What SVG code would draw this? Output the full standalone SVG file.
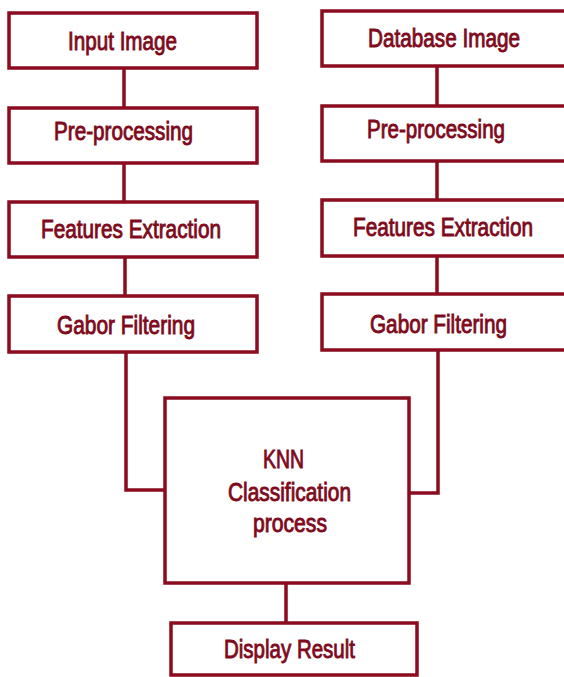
<svg xmlns="http://www.w3.org/2000/svg" width="564" height="677" viewBox="0 0 564 677">
<style>
.box{fill:#fff;stroke:#8b0b1f;stroke-width:3.5}
.ln{fill:none;stroke:#8b0b1f;stroke-width:3.5}
text{font-family:"Liberation Sans",Arial,sans-serif;font-size:25.5px;fill:#7e0a1c;stroke:#7e0a1c;stroke-width:0.9}
</style>
<rect width="564" height="677" fill="#fff"/>
<g id="connectors">
<line class="ln" x1="124" y1="68" x2="124" y2="108"/>
<line class="ln" x1="124" y1="163" x2="124" y2="202"/>
<line class="ln" x1="125" y1="257" x2="125" y2="295"/>
<polyline class="ln" points="126,352 126,490 164,490"/>
<line class="ln" x1="437" y1="66" x2="437" y2="105"/>
<line class="ln" x1="437" y1="161" x2="437" y2="199"/>
<line class="ln" x1="437" y1="256" x2="437" y2="293"/>
<polyline class="ln" points="438,350 438,493 409,493"/>
<line class="ln" x1="286" y1="583" x2="286" y2="622"/>
</g>
<g id="input-image"><rect class="box" x="9" y="13" width="248" height="55"/><text x="68" y="50" textLength="109" lengthAdjust="spacingAndGlyphs">Input Image</text></g>
<g id="pre-processing-left"><rect class="box" x="9" y="108" width="248" height="55"/><text x="54" y="140" textLength="139" lengthAdjust="spacingAndGlyphs">Pre-processing</text></g>
<g id="features-left"><rect class="box" x="9" y="202" width="248" height="55"/><text x="41" y="238" textLength="180" lengthAdjust="spacingAndGlyphs">Features Extraction</text></g>
<g id="gabor-left"><rect class="box" x="9" y="296" width="248" height="56"/><text x="57" y="334" textLength="138" lengthAdjust="spacingAndGlyphs">Gabor Filtering</text></g>
<g id="database-image"><rect class="box" x="322" y="11" width="246" height="55"/><text x="368" y="47" textLength="152" lengthAdjust="spacingAndGlyphs">Database Image</text></g>
<g id="pre-processing-right"><rect class="box" x="322" y="106" width="246" height="55"/><text x="367" y="138" textLength="138" lengthAdjust="spacingAndGlyphs">Pre-processing</text></g>
<g id="features-right"><rect class="box" x="322" y="200" width="246" height="56"/><text x="353" y="236" textLength="180" lengthAdjust="spacingAndGlyphs">Features Extraction</text></g>
<g id="gabor-right"><rect class="box" x="322" y="294" width="246" height="56"/><text x="370" y="333" textLength="137" lengthAdjust="spacingAndGlyphs">Gabor Filtering</text></g>
<g id="knn"><rect class="box" x="165" y="398" width="244" height="185"/>
<text x="263" y="468" textLength="41" lengthAdjust="spacingAndGlyphs">KNN</text>
<text x="228" y="501" textLength="123" lengthAdjust="spacingAndGlyphs">Classification</text>
<text x="253" y="532" textLength="74" lengthAdjust="spacingAndGlyphs">process</text></g>
<g id="display-result"><rect class="box" x="171" y="623" width="246" height="52"/><text x="224" y="658" textLength="131" lengthAdjust="spacingAndGlyphs">Display Result</text></g>
</svg>
